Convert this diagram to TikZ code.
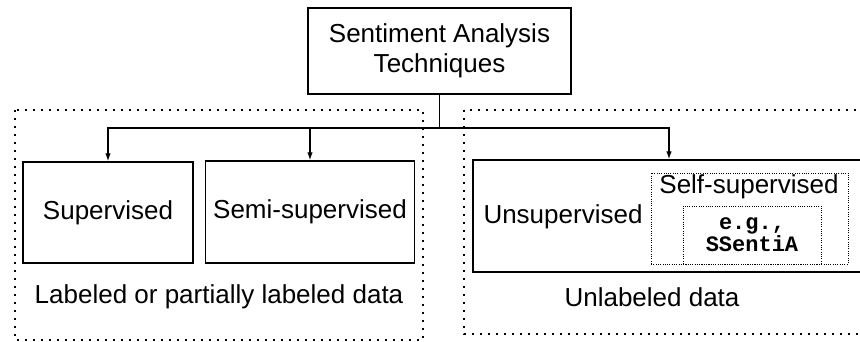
\documentclass[tikz,border=0pt]{standalone}
\usepackage{fontspec}
\setmainfont{Liberation Sans}
\setmonofont{Liberation Mono}
\usetikzlibrary{arrows.meta}

\begin{document}
\begin{tikzpicture}[x=1pt,y=-1pt,
	box/.style={draw,line width=1.4pt,inner sep=0pt,align=center},
	group/.style={line width=1.5pt,dash pattern=on 2.2pt off 5.8pt},
	fine/.style={draw,line width=0.9pt,dash pattern=on 1pt off 1.3pt,inner sep=0pt},
	link/.style={line width=1.3pt,-{Latex[length=8pt,width=5.5pt]}}]
	\clip (0,0) rectangle (860,342) ; % page
	\fontsize{26}{30}\selectfont
\draw[group] (15,110) rectangle (423,340) ; % labeled group
\draw[group] (464,110) rectangle (880,334) ; % unlabeled group
\node[box,minimum width=263pt,minimum height=86pt] (sat) at (439.5,51) {Sentiment Analysis\\Techniques}; % root
\node[box,minimum width=170pt,minimum height=101pt] (sup) at (108,212.5) {Supervised}; % sup
\node[box,minimum width=209pt,minimum height=102pt] (semi) at (310,212) {Semi-supervised}; % semi
\node[box,minimum width=392pt,minimum height=112pt] (unsup) at (669,216) {}; % unsup
\node (unsupt) at (563,217) {Unsupervised}; % unsup.label
\node[fine,minimum width=197pt,minimum height=91pt] (self) at (749.5,218.5) {}; % self
\node (selft) at (749,187) {Self-supervised}; % self.label
\node[fine,minimum width=138pt,minimum height=58pt,align=center,font=\fontsize{22}{22}\selectfont\ttfamily\bfseries] (ssa) at (752,235) {e.g.,\\SSentiA}; % ssa
\node (lab) at (219,297) {Labeled or partially labeled data}; % labeled.label
\node (unlab) at (652,297) {Unlabeled data}; % unlabeled.label
\coordinate (fork) at (439.5,128) ; % fork
\draw[line width=1.3pt] (sat.south) -- (fork) ; % stem
\draw[link] (fork) -| (sup.north) ; % to sup
\draw[link] (fork) -| (semi.north) ; % to semi
\draw[link] (fork) -| (unsup.north) ; % to unsup
\end{tikzpicture}
\end{document}
